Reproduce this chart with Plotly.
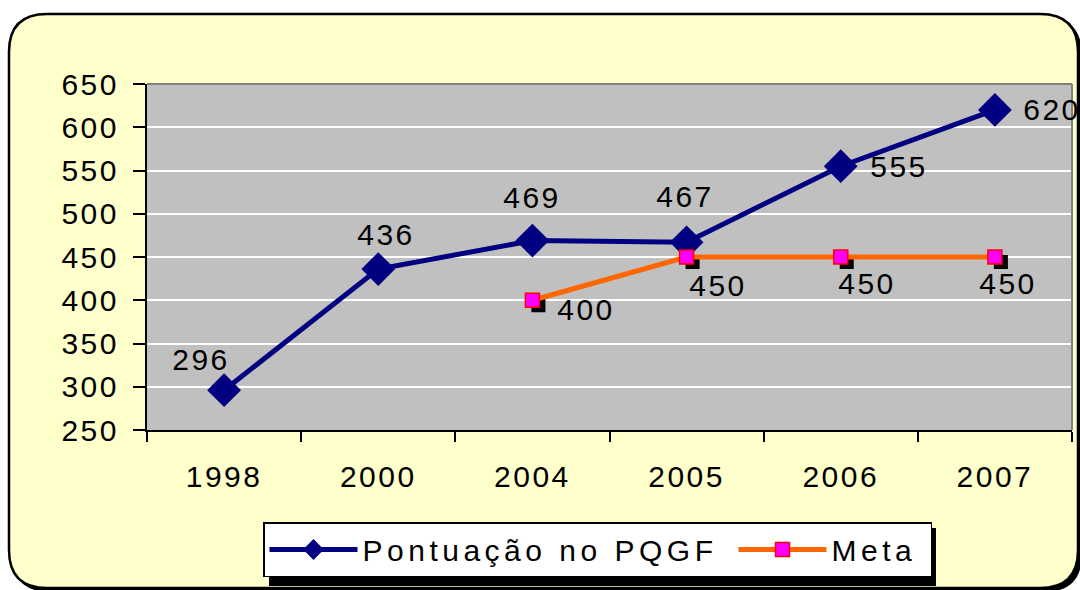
import plotly.graph_objects as go

# ---- data ----
years = ["1998", "2000", "2004", "2005", "2006", "2007"]
pontuacao = [296, 436, 469, 467, 555, 620]
meta_years = ["2004", "2005", "2006", "2007"]
meta = [400, 450, 450, 450]
y_ticks = [250, 300, 350, 400, 450, 500, 550, 600, 650]

# ---- layout geometry (pixels) ----
W, H = 1080, 590
L, R, T, B = 147, 1072, 84, 430
PW, PH = R - L, B - T
FONT = "Liberation Sans, Arial, sans-serif"
FS = 30


def px(x):
    return (x - L) / PW


def py(y):
    return (B - y) / PH


def rounded_path(x0, y0, x1, y1, r):
    pts = [
        ("M", [(x0 + r, y0)]),
        ("L", [(x1 - r, y0)]),
        ("Q", [(x1, y0), (x1, y0 + r)]),
        ("L", [(x1, y1 - r)]),
        ("Q", [(x1, y1), (x1 - r, y1)]),
        ("L", [(x0 + r, y1)]),
        ("Q", [(x0, y1), (x0, y1 - r)]),
        ("L", [(x0, y0 + r)]),
        ("Q", [(x0, y0), (x0 + r, y0)]),
    ]
    s = ""
    for cmd, ps in pts:
        s += cmd + " " + " ".join(f"{px(a):.5f},{py(b):.5f}" for a, b in ps) + " "
    return s + "Z"


ncat = len(years)
dx = 6 / (PW / ncat)
dy = 5 * (y_ticks[-1] - y_ticks[0]) / PH

fig = go.Figure()

# shadow of Meta markers
fig.add_trace(go.Scatter(
    x=meta_years, y=meta, xaxis="x2", yaxis="y2", mode="markers",
    marker=dict(symbol="square", size=14, color="black"),
    showlegend=False, hoverinfo="skip"))

fig.add_trace(go.Scatter(
    x=years, y=pontuacao, xaxis="x3", yaxis="y3", mode="lines+markers",
    name="Pontuação no PQGF", legendwidth=366,
    line=dict(color="#000080", width=5),
    marker=dict(symbol="diamond", size=26, color="#000080")))

fig.add_trace(go.Scatter(
    x=meta_years, y=meta, xaxis="x3", yaxis="y3", mode="lines+markers",
    name="Meta", legendwidth=94,
    line=dict(color="#FF6600", width=5),
    marker=dict(symbol="square", size=14, color="#FF00FF",
                line=dict(color="#FF0000", width=1.5))))

# dummy on main axes so they render
fig.add_trace(go.Scatter(x=years, y=[None] * ncat, showlegend=False,
                         hoverinfo="skip", mode="markers"))

# data labels
p_shift = [(-23, 31), (8, 35), (0, 43), (-2, 46), (58, 0), (57, 0)]
m_shift = [(54, -9), (31, -28), (26, -26), (13, -26)]
ann = []
for xv, yv, (sx, sy) in zip(years, pontuacao, p_shift):
    ann.append(dict(x=years.index(xv), y=yv, xref="x3", yref="y3", text=str(yv),
                    showarrow=False, xshift=sx, yshift=sy,
                    font=dict(size=FS, color="black", family=FONT)))
for xv, yv, (sx, sy) in zip(meta_years, meta, m_shift):
    ann.append(dict(x=years.index(xv), y=yv, xref="x3", yref="y3", text=str(yv),
                    showarrow=False, xshift=sx, yshift=sy,
                    font=dict(size=FS, color="black", family=FONT)))

shapes = [
    # outer shadow + rounded panel
    dict(type="path", xref="paper", yref="paper", layer="below",
         path=rounded_path(12, 17, 1082, 592, 38), fillcolor="black", line=dict(width=0)),
    dict(type="path", xref="paper", yref="paper", layer="below",
         path=rounded_path(9, 14, 1078, 588, 38), fillcolor="#FFFFCC",
         line=dict(color="black", width=2.5)),
    # plot area background
    dict(type="rect", xref="paper", yref="paper", layer="below",
         x0=0, x1=1, y0=0, y1=1, fillcolor="#C0C0C0", line=dict(width=0)),
    # plot frame top and right (gray)
    dict(type="line", xref="paper", yref="paper", x0=0, x1=1, y0=1, y1=1,
         line=dict(color="#808080", width=2)),
    dict(type="line", xref="paper", yref="paper", x0=1, x1=1, y0=0, y1=1,
         line=dict(color="#808080", width=2)),
    # legend shadow
    dict(type="rect", xref="paper", yref="paper",
         x0=px(269), x1=px(936), y0=py(528), y1=py(586),
         fillcolor="black", line=dict(width=0)),
]

axis_common = dict(categoryorder="array", categoryarray=years)

fig.update_layout(
    width=W, height=H,
    margin=dict(l=L, r=W - R, t=T, b=H - B, pad=0, autoexpand=False),
    paper_bgcolor="white",
    plot_bgcolor="#C0C0C0",
    font=dict(family=FONT, size=FS, color="black"),
    showlegend=True,
    xaxis=dict(type="category", **axis_common, range=[-0.5, ncat - 0.5],
               showgrid=False, showline=True, linecolor="black", linewidth=2,
               ticks="outside", tickson="boundaries", ticklen=10, tickwidth=2,
               tickcolor="black", ticklabelstandoff=19,
               tickfont=dict(size=FS, family=FONT, color="black")),
    yaxis=dict(range=[y_ticks[0], y_ticks[-1]], tickvals=y_ticks,
               showgrid=True, gridcolor="white", gridwidth=2, zeroline=False,
               showline=True, linecolor="black", linewidth=2,
               ticks="outside", ticklen=12, tickwidth=2, tickcolor="black",
               ticklabelstandoff=8,
               tickfont=dict(size=FS, family=FONT, color="black")),
    xaxis2=dict(type="category", **axis_common, overlaying="x",
                range=[-0.5 - dx, ncat - 0.5 - dx], visible=False),
    yaxis2=dict(overlaying="y", range=[y_ticks[0] + dy, y_ticks[-1] + dy], visible=False),
    xaxis3=dict(type="category", **axis_common, overlaying="x",
                range=[-0.5, ncat - 0.5], visible=False),
    yaxis3=dict(overlaying="y", range=[y_ticks[0], y_ticks[-1]], visible=False),
    legend=dict(orientation="h", x=px(263), y=py(522), xanchor="left", yanchor="top",
                bgcolor="white", bordercolor="black", borderwidth=1.5,
                itemwidth=88, font=dict(size=FS, family=FONT, color="black"),
                traceorder="normal"),
    annotations=ann,
    shapes=shapes,
)

post = (
    "document.body.style.margin='0';document.body.style.overflow='hidden';"
    "document.querySelectorAll('.main-svg text').forEach(function(t){"
    "t.style.letterSpacing='2.5px';});"
    "document.querySelectorAll('.legend text').forEach(function(t){"
    "t.style.letterSpacing='4.5px';});"
)
fig.write_html("out.html", config={"displayModeBar": False}, post_script=post)
